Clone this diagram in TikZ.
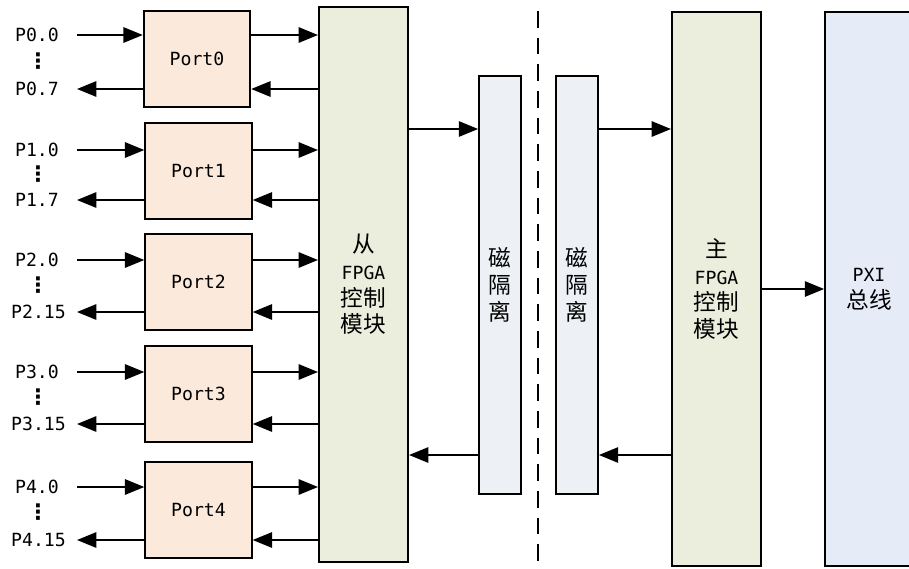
\documentclass[tikz,border=0pt]{standalone}
\usepackage{fontspec}
\setmainfont{Noto Sans CJK SC}
\newfontfamily\monofnt[Scale=0.8]{DejaVu Sans Mono}
\newfontfamily\dotsfnt{DejaVu Sans}
\usetikzlibrary{arrows.meta}
\definecolor{portfill}{HTML}{FBEADC}
\definecolor{fpgafill}{HTML}{EBEDDD}
\definecolor{isofill}{HTML}{EDF0F5}
\definecolor{pxifill}{HTML}{E6ECF7}
\begin{document}
\begin{tikzpicture}[x=0.75pt, y=-0.75pt,
    font=\fontsize{17}{20}\selectfont,
    box/.style={draw, line width=1.3pt, inner sep=0pt, align=center},
    portbox/.style={box, fill=portfill, minimum width=80pt, minimum height=72pt},
    fpgabox/.style={box, fill=fpgafill, minimum width=67pt, minimum height=416pt},
    isobox/.style={box, fill=isofill, minimum width=31.5pt, minimum height=313pt},
    pin/.style={inner sep=0pt, font=\fontsize{17}{20}\selectfont\monofnt},
    dots/.style={inner sep=0pt, font=\fontsize{16}{16}\selectfont\dotsfnt\bfseries},
    sig/.style={-{Triangle[length=14.5pt,width=11.5pt]}, line width=1.4pt},
    cut/.style={line width=1.3pt, dash pattern=on 12.5pt off 7.5pt}]
            \useasboundingbox (0,0) rectangle (909,568);
            \clip (0,0) rectangle (909,568);

            % blocks
            \node[fpgabox] (slave) at (363.5,284.5) {从\\{\monofnt FPGA}\\控制\\模块};
            \node[isobox] (iso1) at (500,285) {磁\\隔\\离};
            \node[isobox] (iso2) at (577,285) {磁\\隔\\离};
            \node[fpgabox] (master) at (716.5,289) {主\\{\monofnt FPGA}\\控制\\模块};
            \node[box, fill=pxifill, minimum width=90pt, minimum height=416pt] (pxi) at (885,289) {};
            \node[align=center] (pxitext) at (869,289) {{\monofnt PXI}\\总线};

            \node[portbox] (port0) at (197,59) {\monofnt Port0};
            \node[portbox] (port1) at (198.5,171) {\monofnt Port1};
            \node[portbox] (port2) at (198.5,282) {\monofnt Port2};
            \node[portbox] (port3) at (198.5,394) {\monofnt Port3};
            \node[portbox] (port4) at (198.5,510) {\monofnt Port4};

            % pin labels
            \node[pin] (p00) at (37,35) {P0.0};
            \node[pin] (p07) at (37,89) {P0.7};
            \node[pin] (p10) at (37,150) {P1.0};
            \node[pin] (p17) at (37,200) {P1.7};
            \node[pin] (p20) at (37,260) {P2.0};
            \node[pin] (p215) at (38.5,312) {P2.15};
            \node[pin] (p30) at (37,372) {P3.0};
            \node[pin] (p315) at (38.5,424) {P3.15};
            \node[pin] (p40) at (37,487) {P4.0};
            \node[pin] (p415) at (38.5,540) {P4.15};

            \node[dots] (d0) at (38,61) {⋮};
            \node[dots] (d1) at (38,174) {⋮};
            \node[dots] (d2) at (38,285) {⋮};
            \node[dots] (d3) at (38,397) {⋮};
            \node[dots] (d4) at (38,512) {⋮};

            \coordinate (i0) at (77,35);
            \coordinate (o0) at (77,89);
            \coordinate (i1) at (77,150);
            \coordinate (o1) at (77,200);
            \coordinate (i2) at (77,260);
            \coordinate (o2) at (77,312);
            \coordinate (i3) at (77,372);
            \coordinate (o3) at (77,424);
            \coordinate (i4) at (77,487);
            \coordinate (o4) at (77,540);

            % pins <-> ports <-> slave FPGA
            \draw[sig] (i0) -- (port0.west |- i0);
            \draw[sig] (port0.west |- o0) -- (o0);
            \draw[sig] (port0.east |- i0) -- (slave.west |- i0);
            \draw[sig] (slave.west |- o0) -- (port0.east |- o0);

            \draw[sig] (i1) -- (port1.west |- i1);
            \draw[sig] (port1.west |- o1) -- (o1);
            \draw[sig] (port1.east |- i1) -- (slave.west |- i1);
            \draw[sig] (slave.west |- o1) -- (port1.east |- o1);

            \draw[sig] (i2) -- (port2.west |- i2);
            \draw[sig] (port2.west |- o2) -- (o2);
            \draw[sig] (port2.east |- i2) -- (slave.west |- i2);
            \draw[sig] (slave.west |- o2) -- (port2.east |- o2);

            \draw[sig] (i3) -- (port3.west |- i3);
            \draw[sig] (port3.west |- o3) -- (o3);
            \draw[sig] (port3.east |- i3) -- (slave.west |- i3);
            \draw[sig] (slave.west |- o3) -- (port3.east |- o3);

            \draw[sig] (i4) -- (port4.west |- i4);
            \draw[sig] (port4.west |- o4) -- (o4);
            \draw[sig] (port4.east |- i4) -- (slave.west |- i4);
            \draw[sig] (slave.west |- o4) -- (port4.east |- o4);

            % isolation
            \coordinate (fwd) at (0,129);
            \coordinate (back) at (0,455);
            \draw[sig] (slave.east |- fwd) -- (iso1.west |- fwd);
            \draw[sig] (iso1.west |- back) -- (slave.east |- back);
            \draw[sig] (iso2.east |- fwd) -- (master.west |- fwd);
            \draw[sig] (master.west |- back) -- (iso2.east |- back);
            \draw[sig] (master.east |- pxi) -- (pxi.west |- pxi);

            \coordinate (cuttop) at (538,11);
            \coordinate (cutbot) at (538,570);
            \draw[cut] (cuttop) -- (cutbot);
        \end{tikzpicture}
\end{document}
